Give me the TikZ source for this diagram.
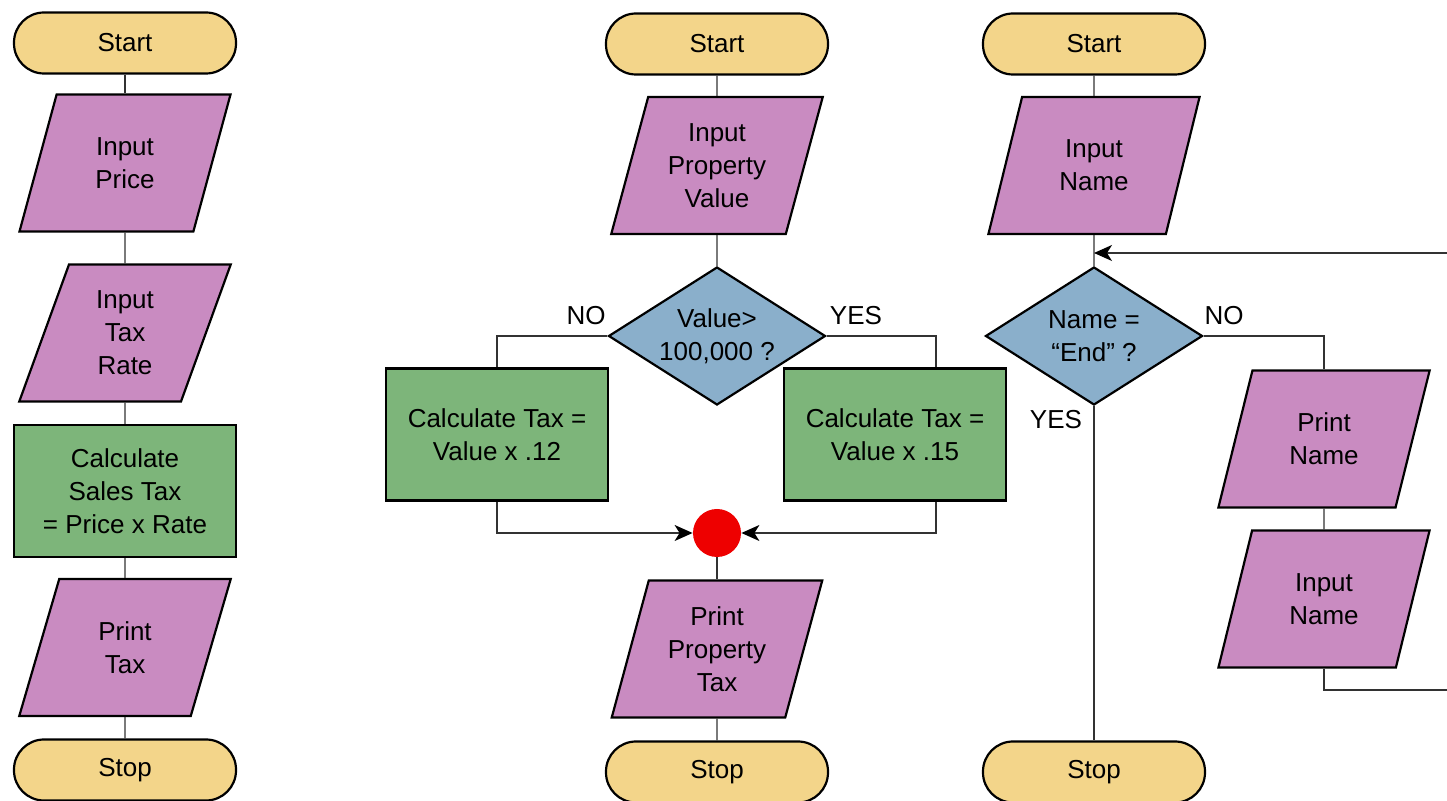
\documentclass[tikz,border=0pt]{standalone}
\usepackage{fontspec}
\setmainfont{Liberation Sans}
\usetikzlibrary{shapes.geometric, arrows.meta, calc}

\definecolor{termfill}{RGB}{243,213,138}
\definecolor{iofill}{RGB}{201,139,193}
\definecolor{procfill}{RGB}{125,181,122}
\definecolor{decfill}{RGB}{138,175,203}
\definecolor{mergered}{RGB}{238,0,0}
\definecolor{linegray}{RGB}{50,50,50}

\begin{document}
\begin{tikzpicture}[
    x=0.5pt, y=-0.5pt,
    every node/.style={font=\fontsize{13}{16.5}\selectfont, align=center},
    term/.style={draw, line width=1.1pt, fill=termfill, rounded corners=15pt, minimum width=111pt, minimum height=30.5pt},
    io/.style={draw, line width=1.1pt, fill=iofill, trapezium, trapezium left angle=72.7, trapezium right angle=107.3, trapezium stretches=true, minimum width=106pt, minimum height=68.5pt, inner sep=1pt},
    proc/.style={draw, line width=1.1pt, fill=procfill, minimum width=111pt, minimum height=66pt},
    dec/.style={draw, line width=1.1pt, fill=decfill, diamond, aspect=1.57, minimum width=108.5pt, minimum height=69pt, inner sep=0pt},
    mergept/.style={circle, fill=mergered, minimum size=24pt, inner sep=0pt},
    conn/.style={draw=linegray, line width=0.65pt},
    arrow/.style={conn, -{Stealth[length=9pt, width=8pt, inset=2.5pt, black]}},
    lbl/.style={inner sep=1pt}
]
    \useasboundingbox (0,0) rectangle (1447,801);
    \clip (0,0) rectangle (1447,801);

    % sales tax
    \node[term] (start1) at (125,43) {Start};
    \node[io] (price1) at (125,163) {Input\\Price};
    \node[io] (rate1) at (125,333) {Input\\Tax\\Rate};
    \node[proc] (calc1) at (125,491) {Calculate\\Sales Tax\\= Price x Rate};
    \node[io] (print1) at (125,647.5) {Print\\Tax};
    \node[term] (stop1) at (125,770) {Stop};
    \draw[conn] (start1) -- (price1);
    \draw[conn] (price1) -- (rate1);
    \draw[conn] (rate1) -- (calc1);
    \draw[conn] (calc1) -- (print1);
    \draw[conn] (print1) -- (stop1);

    % property tax
    \node[term] (start2) at (717,44) {Start};
    \node[io] (value2) at (717,165.5) {Input\\Property\\Value};
    \node[dec] (dec2) at (717,336) {Value>\\100,000 ?};
    \node[proc] (calcL) at (497,434.5) {Calculate Tax =\\Value x .12};
    \node[proc] (calcR) at (895,434.5) {Calculate Tax =\\Value x .15};
    \node[mergept] (merge2) at (717,533) {};
    \node[io] (print2) at (717,649) {Print\\Property\\Tax};
    \node[term] (stop2) at (717,772) {Stop};
    \node[lbl] at (586,316) {NO};
    \node[lbl] at (856,316) {YES};
    \draw[conn] (start2) -- (value2);
    \draw[conn] (value2) -- (dec2);
    \draw[conn] (dec2.west) -| (calcL.north);
    \draw[conn] (dec2.east) -| ([xshift=20.5pt]calcR.north);
    \draw[arrow] (calcL.south) |- (merge2.west);
    \draw[arrow] ([xshift=20.5pt]calcR.south) |- (merge2.east);
    \draw[conn] (merge2) -- (print2);
    \draw[conn] (print2) -- (stop2);

    % name loop
    \node[term] (start3) at (1094,44) {Start};
    \node[io] (name3) at (1094,165.5) {Input\\Name};
    \node[dec] (dec3) at (1094,336) {Name =\\“End” ?};
    \node[io] (printN) at (1324,439) {Print\\Name};
    \node[io] (nameN) at (1324,599) {Input\\Name};
    \node[term] (stop3) at (1094,772) {Stop};
    \node[lbl] at (1224,316) {NO};
    \node[lbl] at (1056,420) {YES};
    \coordinate (loopR) at (1470,690);
    \coordinate (back3) at (1094,253);
    \draw[conn] (start3) -- (name3);
    \draw[conn] (name3) -- (dec3);
    \draw[conn] (dec3.east) -| (printN.north);
    \draw[conn] (printN) -- (nameN);
    \draw[arrow] (nameN.south) |- (loopR) |- (back3);
    \draw[conn] (dec3) -- (stop3);
\end{tikzpicture}
\end{document}
